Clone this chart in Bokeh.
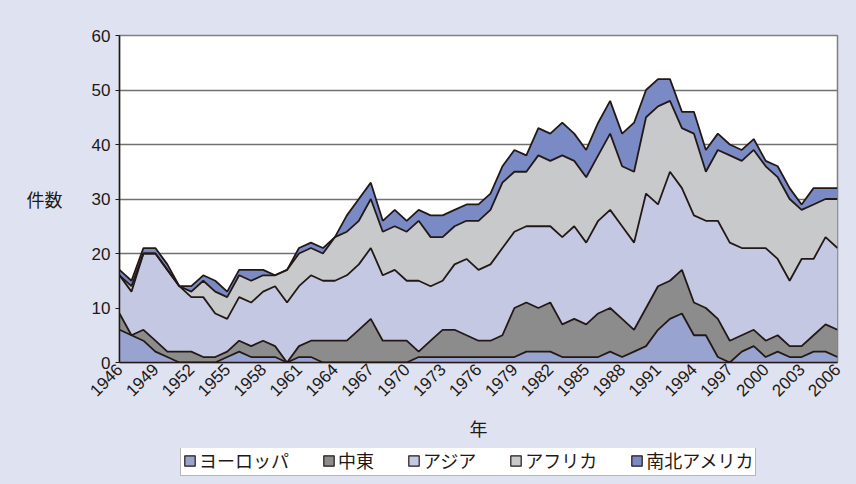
import math
from bokeh.plotting import figure
from bokeh.layouts import column
from bokeh.models import ColumnDataSource, Range1d, FixedTicker, Legend, LegendItem
from bokeh.embed import file_html
from bokeh.resources import INLINE

years = list(range(1946, 2007))
europe = [6, 5, 4, 2, 1, 0, 0, 0, 0, 1, 2, 1, 1, 1, 0, 1, 1, 0, 0, 0,
          0, 0, 0, 0, 0, 1, 1, 1, 1, 1, 1, 1, 1, 1, 2, 2, 2, 1, 1, 1,
          1, 2, 1, 2, 3, 6, 8, 9, 5, 5, 1, 0, 2, 3, 1, 2, 1, 1, 2, 2, 1]
middle_east = [3, 0, 2, 2, 1, 2, 2, 1, 1, 1, 2, 2, 3, 2, 0, 2, 3, 4, 4, 4,
               6, 8, 4, 4, 4, 1, 3, 5, 5, 4, 3, 3, 4, 9, 9, 8, 9, 6, 7, 6,
               8, 8, 7, 4, 7, 8, 7, 8, 6, 5, 7, 4, 3, 3, 3, 3, 2, 2, 3, 5, 5]
asia = [7, 8, 14, 16, 15, 12, 10, 11, 8, 6, 8, 8, 9, 11, 11, 11, 12, 11, 11, 12,
        12, 13, 12, 13, 11, 13, 10, 9, 12, 14, 13, 14, 16, 14, 14, 15, 14, 16, 17, 15,
        17, 18, 17, 16, 21, 15, 20, 15, 16, 16, 18, 18, 16, 15, 17, 14, 12, 16, 14, 16, 15]
africa = [0, 1, 0, 0, 0, 0, 1, 3, 4, 4, 4, 4, 3, 2, 6, 6, 5, 5, 8, 8,
          8, 9, 8, 8, 9, 11, 9, 8, 7, 7, 9, 10, 12, 11, 10, 13, 12, 15, 12, 12,
          12, 14, 11, 13, 14, 18, 13, 11, 15, 9, 13, 16, 16, 18, 15, 15, 15, 9, 10, 7, 9]
americas = [1, 1, 1, 1, 1, 0, 1, 1, 2, 1, 1, 2, 1, 0, 0, 1, 1, 1, 0, 3,
            4, 3, 2, 3, 2, 2, 4, 4, 3, 3, 3, 3, 3, 4, 3, 5, 5, 6, 5, 5,
            6, 6, 6, 9, 5, 5, 4, 3, 4, 4, 3, 2, 2, 2, 1, 2, 2, 1, 3, 2, 2]

labels = ["ヨーロッパ", "中東", "アジア", "アフリカ", "南北アメリカ"]
keys = ["europe", "middle_east", "asia", "africa", "americas"]
colors = ["#98A3D0", "#8C8C8C", "#C4C8E2", "#C8C9CB", "#7A8AC4"]
x_ticks = list(range(1946, 2007, 3))
y_ticks = [0, 10, 20, 30, 40, 50, 60]

source = ColumnDataSource(dict(year=years, europe=europe, middle_east=middle_east,
                               asia=asia, africa=africa, americas=americas))

JP = "Noto Sans CJK JP"
NUM = "Liberation Sans"
DARK = "#231815"
BG = "#DFE3F1"

p = figure(width=856, height=448, output_backend="svg", toolbar_location=None,
           x_range=Range1d(1946, 2006), y_range=Range1d(0, 60),
           min_border_left=119, min_border_right=19, min_border_top=35,
           min_border_bottom=86)
p.background_fill_color = "white"
p.border_fill_color = BG
p.outline_line_color = "#808080"
p.outline_line_width = 1.5

p.varea_stack(stackers=keys, x="year", color=colors, source=source)
p.vline_stack(stackers=keys, x="year", color=DARK, line_width=1.8, source=source)

p.xgrid.visible = False
p.ygrid.grid_line_color = "#707070"
p.ygrid.grid_line_width = 1.4

p.yaxis.ticker = FixedTicker(ticks=y_ticks)
p.yaxis.minor_tick_line_color = None
p.yaxis.major_tick_out = 4
p.yaxis.major_tick_in = 0
p.yaxis.axis_line_color = DARK
p.yaxis.axis_line_width = 1.5
p.yaxis.major_tick_line_color = DARK
p.yaxis.major_label_text_font = NUM
p.yaxis.major_label_text_font_size = "17px"
p.yaxis.major_label_text_color = DARK
p.yaxis.major_label_standoff = 5
p.yaxis.axis_label = "件数"
p.yaxis.axis_label_orientation = "horizontal"
p.yaxis.axis_label_text_font = JP
p.yaxis.axis_label_text_font_size = "18px"
p.yaxis.axis_label_text_font_style = "normal"
p.yaxis.axis_label_text_color = DARK
p.yaxis.axis_label_standoff = 26

p.xaxis.ticker = FixedTicker(ticks=x_ticks)
p.xaxis.minor_tick_line_color = None
p.xaxis.major_tick_out = 0
p.xaxis.major_tick_in = 0
p.xaxis.axis_line_color = DARK
p.xaxis.axis_line_width = 1.5
p.xaxis.major_label_orientation = math.pi / 4
p.xaxis.major_label_text_font = NUM
p.xaxis.major_label_text_font_size = "17px"
p.xaxis.major_label_text_color = DARK
p.xaxis.major_label_standoff = 4
p.xaxis.axis_label = "年"
p.xaxis.axis_label_text_font = JP
p.xaxis.axis_label_text_font_size = "18px"
p.xaxis.axis_label_text_font_style = "normal"
p.xaxis.axis_label_text_color = DARK
p.xaxis.axis_label_standoff = 10

# legend strip below the chart (its frame is aligned with the chart's frame)
lg = figure(width=856, height=36, output_backend="svg", toolbar_location=None,
            x_range=Range1d(0, 1), y_range=Range1d(0, 1),
            x_axis_location=None, y_axis_location=None,
            min_border_left=119, min_border_right=19, min_border_top=0,
            min_border_bottom=0)
lg.background_fill_color = None
lg.border_fill_color = BG
lg.outline_line_color = None
lg.xgrid.visible = False
lg.ygrid.visible = False

items = []
for lab, col in zip(labels, colors):
    r = lg.quad(left=[0], right=[0], top=[0], bottom=[0], fill_color=col,
                line_color=DARK, line_width=1.2, visible=False)
    items.append(LegendItem(label=lab, renderers=[r]))

legend = Legend(items=items, orientation="horizontal", location=(61, 8),
                label_text_font=JP, label_text_font_size="18px",
                label_text_color=DARK,
                glyph_width=13, glyph_height=13, label_standoff=3,
                spacing=33, padding=2, margin=0,
                border_line_color="#707070", border_line_width=1.2,
                background_fill_color="white", background_fill_alpha=1.0)
lg.add_layout(legend)

layout = column(p, lg, spacing=0, styles={"background-color": BG})
open("out.html", "w").write(file_html(layout, INLINE))
